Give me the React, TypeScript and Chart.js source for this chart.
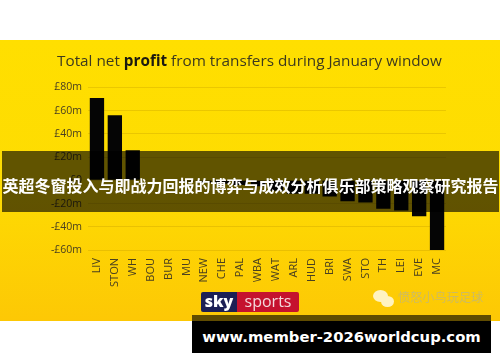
import React, { useEffect, useRef } from "react";
import { Chart, registerables } from "chart.js";

Chart.register(...registerables);

const categories = ["LIV","STON","WH","BOU","BUR","MU","NEW","CHE","PAL","WBA","WAT","ARL","HUD","BRI","SWA","STO","TH","LEI","EVE","MC"];
const netProfit = [71,56,26,0,0,-1,-2,-3,-4,-5,-9,-11.5,-11.5,-14,-18,-19,-24.5,-26,-31,-61];
const yTicks = [80,60,40,20,0,-20,-40,-60];
const titleStart = "Total net ";
const titleBold = "profit";
const titleEnd = " from transfers during January window";
const bannerText = "英超冬窗投入与即战力回报的博弈与成效分析俱乐部策略观察研究报告";
const footerText = "www.member-2026worldcup.com";
const watermark = "愤怒小鸟玩足球";

const fmt = (v: number) => (v === 0 ? "£0" : v < 0 ? `-£${-v}m` : `£${v}m`);

const backdrop = {
  id: "backdrop",
  beforeDraw(chart: any) {
    const { ctx } = chart;
    ctx.save();
    const g = ctx.createLinearGradient(0, 40, 0, 321);
    g.addColorStop(0, "#ffdf00");
    g.addColorStop(0.5, "#fedc02");
    g.addColorStop(1, "#fdc805");
    ctx.fillStyle = g;
    ctx.fillRect(0, 40, 500, 281);
    ctx.restore();
  },
};

const abs = (o: React.CSSProperties): React.CSSProperties => ({ position: "absolute", whiteSpace: "nowrap", ...o });

export default function App() {
  const ref = useRef<HTMLCanvasElement>(null);
  useEffect(() => {
    document.body.style.margin = "0";
    document.body.style.background = "#fff";
    const chart = new Chart(ref.current!, {
      type: "bar",
      data: {
        labels: categories,
        datasets: [{ data: netProfit, backgroundColor: "#050505", borderWidth: 0, barPercentage: 0.8, categoryPercentage: 1 }],
      },
      options: {
        animation: false,
        responsive: false,
        layout: { padding: { left: 0, right: 54, top: 87.5, bottom: 62 } },
        plugins: { legend: { display: false }, tooltip: { enabled: false } },
        scales: {
          x: {
            afterFit: (s: any) => { s.height = 50; },
            grid: { display: false },
            border: { display: false },
            ticks: {
              color: "#4a4020",
              font: { family: "'Open Sans'", size: 11 },
              autoSkip: false,
              maxRotation: 90,
              minRotation: 90,
              padding: 0,
            },
          },
          y: {
            min: -60,
            max: 80,
            afterBuildTicks: (s: any) => { s.ticks = yTicks.map((value) => ({ value })); },
            afterFit: (s: any) => { s.width = 88; },
            grid: { color: "rgba(190,150,0,0.3)", lineWidth: 1, drawTicks: false },
            border: { display: false },
            ticks: {
              color: "#4a4020",
              font: { family: "'Open Sans'", size: 10.5 },
              padding: 6,
              callback: (v: any) => fmt(Number(v)),
            },
          },
        },
      },
      plugins: [backdrop],
    } as any);
    return () => chart.destroy();
  }, []);

  return (
    <div style={{ position: "relative", width: 500, height: 362, overflow: "hidden" }}>
      <canvas ref={ref} width={500} height={362} style={{ display: "block" }} />
      <div style={abs({ left: 57, top: 50, fontFamily: "'Open Sans'", fontSize: 15.3, color: "#3d3a1e", lineHeight: "20px" })}>
        {titleStart}<b style={{ color: "#1c1a10" }}>{titleBold}</b>{titleEnd}
      </div>
      <div style={abs({ left: 201, top: 292, width: 98, height: 20, borderRadius: 2, overflow: "hidden", display: "flex", fontFamily: "'Open Sans'", fontSize: 16, lineHeight: "19px" })}>
        <span style={{ width: 36, background: "#1c1f55", color: "#fff", fontWeight: 800, textAlign: "center" }}>sky</span>
        <span style={{ flex: 1, background: "#c5122e", color: "#f3d9dc", textAlign: "center" }}>sports</span>
      </div>
      <div style={abs({ left: 373, top: 290, width: 15, height: 12, borderRadius: "50%", background: "#fff3c0" })} />
      <div style={abs({ left: 381, top: 296, width: 13, height: 11, borderRadius: "50%", background: "#fff3c0" })} />
      <div style={abs({ left: 398, top: 288, fontFamily: "'Noto Sans CJK SC'", fontSize: 12.2, color: "#cdbb62", lineHeight: "18px" })}>{watermark}</div>
      <div style={abs({ left: 2, top: 151, width: 497, height: 61, background: "rgba(0,0,0,0.62)", display: "flex", alignItems: "center", justifyContent: "center", fontFamily: "'Noto Sans CJK SC'", fontWeight: 700, fontSize: 16, color: "#fff" })}>
        <span style={{ marginTop: 7 }}>{bannerText}</span>
      </div>
      <div style={abs({ left: 192, top: 315, width: 299, height: 6, background: "rgba(0,0,0,0.62)" })} />
      <div style={abs({ left: 192, top: 321, width: 299, height: 32, background: "#000", color: "#fff", fontFamily: "'DejaVu Sans'", fontWeight: 700, fontSize: 14.8, lineHeight: "31px", textAlign: "center" })}>{footerText}</div>
    </div>
  );
}
